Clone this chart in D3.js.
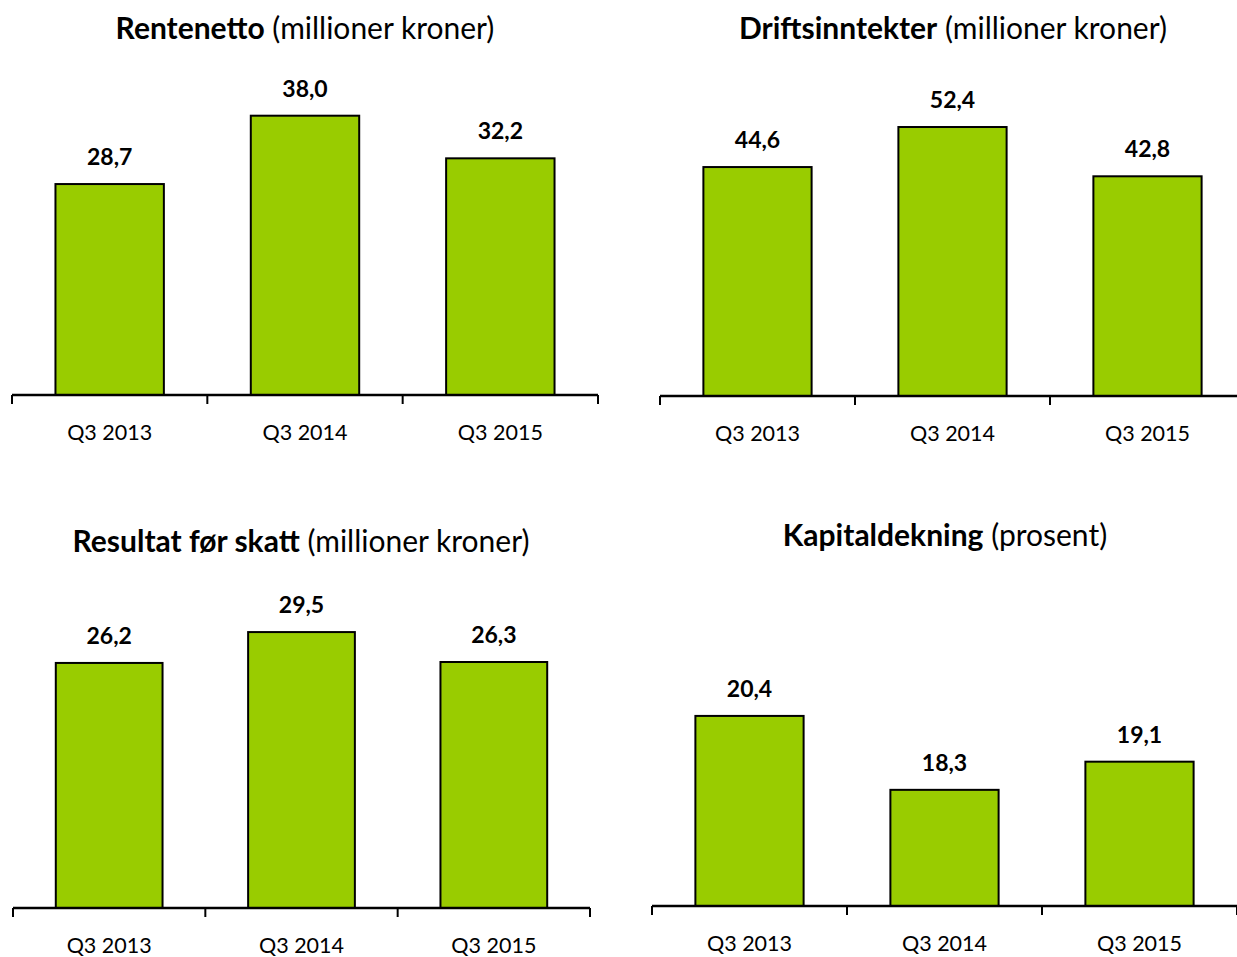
<!DOCTYPE html>
<html>
<head>
<meta charset="utf-8">
<script src="https://cdn.jsdelivr.net/npm/d3@7"></script>
<style>
  body { margin: 0; background: #fff; }
  text { font-family: Lato, "Open Sans", sans-serif; fill: #000; }
</style>
</head>
<body>
<div id="chart"></div>
<script>
// Données
const kvartaler = ["Q3 2013", "Q3 2014", "Q3 2015"];

const rentenetto      = [28.7, 38.0, 32.2];
const driftsinntekter = [44.6, 52.4, 42.8];
const resultat        = [26.2, 29.5, 26.3];
const kapitaldekning  = [20.4, 18.3, 19.1];

const titlerFet   = ["Rentenetto", "Driftsinntekter", "Resultat før skatt", "Kapitaldekning"];
const titlerEnhet = ["(millioner kroner)", "(millioner kroner)", "(millioner kroner)", "(prosent)"];
const domener     = [[0, 40], [0, 60], [0, 30], [15, 22]];

// Mise en page des quatre panneaux
const panneaux = [
  { verdier: rentenetto,      x0: 12,  x1: 598,  base: 395, topp: 101,   tittelY: 29,  tittelX: 305 },
  { verdier: driftsinntekter, x0: 660, x1: 1245, base: 396, topp: 88,    tittelY: 29,  tittelX: 953 },
  { verdier: resultat,        x0: 13,  x1: 590,  base: 908, topp: 627.4, tittelY: 542, tittelX: 301 },
  { verdier: kapitaldekning,  x0: 652, x1: 1237, base: 906, topp: 659.6, tittelY: 536, tittelX: 945 }
];

const svg = d3.select("#chart").append("svg")
    .attr("width", 1237).attr("height", 957);

const fmt = v => d3.format(".1f")(v).replace(".", ",");

panneaux.forEach((p, i) => {
  const g = svg.append("g");

  const x = d3.scaleBand().domain(kvartaler).range([p.x0, p.x1]).padding(0);
  const y = d3.scaleLinear().domain(domener[i]).range([p.base, p.topp]);
  const bw = x.bandwidth() * 0.555;

  // tittel
  const t = g.append("text")
      .attr("x", p.tittelX).attr("y", p.tittelY + 10)
      .attr("text-anchor", "middle")
      .style("font-size", "30px");
  t.append("tspan").style("font-weight", "bold").text(titlerFet[i]);
  t.append("tspan").text(" " + titlerEnhet[i]);

  // søyler
  g.selectAll("rect").data(p.verdier).join("rect")
      .attr("x", (d, j) => x(kvartaler[j]) + (x.bandwidth() - bw) / 2)
      .attr("y", d => y(d))
      .attr("width", bw)
      .attr("height", d => y.range()[0] - y(d))
      .attr("fill", "#99cc00")
      .attr("stroke", "#000")
      .attr("stroke-width", 2);

  // verdier
  g.selectAll("text.verdi").data(p.verdier).join("text")
      .attr("class", "verdi")
      .attr("x", (d, j) => x(kvartaler[j]) + x.bandwidth() / 2)
      .attr("y", d => y(d) - 19)
      .attr("text-anchor", "middle")
      .style("font-size", "23px")
      .style("font-weight", "bold")
      .text(fmt);

  // akse
  const akse = g.append("g")
      .attr("transform", `translate(0,${p.base})`);
  akse.append("line")
      .attr("x1", p.x0).attr("x2", p.x1)
      .attr("stroke", "#000").attr("stroke-width", 2.5);
  const grenser = kvartaler.map(k => x(k)).concat([p.x1]);
  akse.selectAll("line.tick").data(grenser).join("line")
      .attr("class", "tick")
      .attr("x1", d => d).attr("x2", d => d)
      .attr("y1", 0).attr("y2", 9)
      .attr("stroke", "#000").attr("stroke-width", 2);
  akse.selectAll("text").data(kvartaler).join("text")
      .attr("x", k => x(k) + x.bandwidth() / 2)
      .attr("y", 45)
      .attr("text-anchor", "middle")
      .style("font-size", "21.5px")
      .text(k => k);
});
</script>
</body>
</html>
